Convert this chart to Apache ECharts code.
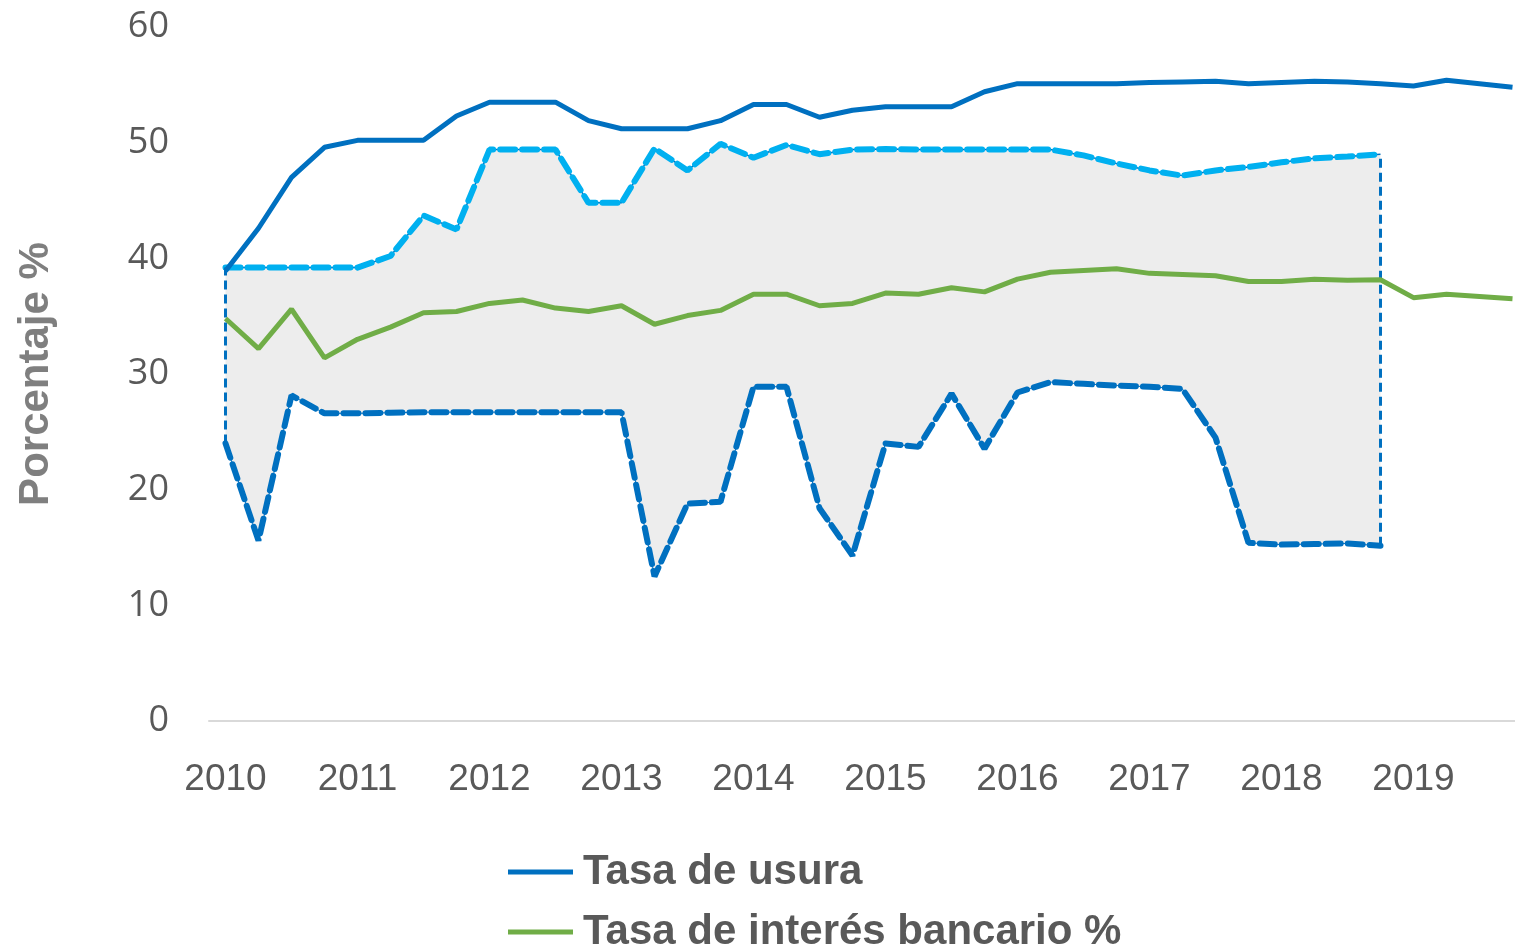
<!DOCTYPE html>
<html>
<head>
<meta charset="utf-8">
<script src="https://cdn.jsdelivr.net/npm/echarts@6/dist/echarts.min.js"></script>
<style>
  html, body { margin: 0; padding: 0; background: #fff; overflow: hidden; }
  /* el gráfico original está recortado a la derecha */
  #chart { width: 1540px; height: 951px; }
</style>
</head>
<body>
<div id="chart"></div>
<script>
// Años del eje X (datos trimestrales)
const years = [2010, 2011, 2012, 2013, 2014, 2015, 2016, 2017, 2018, 2019];
const quarters = ["T1", "T2", "T3", "T4"];

// Tasa de usura (%)
const usura = [
  38.9, 42.6, 47.0, 49.6, 50.2, 50.2, 50.2, 52.3, 53.5, 53.5,
  53.5, 51.9, 51.2, 51.2, 51.2, 51.9, 53.3, 53.3, 52.2, 52.8,
  53.1, 53.1, 53.1, 54.4, 55.1, 55.1, 55.1, 55.1, 55.2, 55.25,
  55.3, 55.1, 55.2, 55.3, 55.25, 55.1, 54.9, 55.4, 55.1, 54.8
];

// Tasa de interés bancario (%)
const bancario = [
  34.8, 32.2, 35.6, 31.4, 33.0, 34.05, 35.3, 35.4, 36.1, 36.4,
  35.7, 35.4, 35.9, 34.3, 35.05, 35.5, 36.9, 36.9, 35.9, 36.1,
  37.0, 36.9, 37.45, 37.1, 38.2, 38.8, 38.95, 39.1, 38.7, 38.6,
  38.5, 38.0, 38.0, 38.2, 38.1, 38.15, 36.6, 36.9, 36.7, 36.5
];

// Banda superior (línea discontinua celeste)
const bandaAlta = [
  39.2, 39.2, 39.2, 39.2, 39.2, 40.2, 43.7, 42.5, 49.4, 49.4,
  49.4, 44.8, 44.8, 49.5, 47.6, 49.9, 48.7, 49.8, 49.0, 49.4,
  49.45, 49.4, 49.4, 49.4, 49.4, 49.4, 48.9, 48.2, 47.6, 47.15,
  47.6, 47.9, 48.3, 48.65, 48.8, 49.0
];

// Banda inferior (línea discontinua azul)
const bandaBaja = [
  24.0, 15.6, 28.15, 26.6, 26.6, 26.65, 26.7, 26.7, 26.7, 26.7,
  26.7, 26.7, 26.7, 12.5, 18.8, 18.95, 28.9, 28.9, 18.4, 14.3,
  24.0, 23.7, 28.3, 23.55, 28.4, 29.3, 29.15, 29.0, 28.9, 28.7,
  24.5, 15.4, 15.25, 15.3, 15.35, 15.15
];

const categories = [];
years.forEach((y) => quarters.forEach((q) => categories.push(y + "-" + q)));

// ancho de la banda para el área apilada
const bandaAncho = bandaAlta.map((v, i) => +(v - bandaBaja[i]).toFixed(2));
const lastBand = bandaAlta.length - 1;

const AZUL = "#0070C0";
const CELESTE = "#00B0F0";
const VERDE = "#70AD47";

const legendText = {
  fontFamily: "Liberation Sans",
  fontWeight: "bold",
  fontSize: 42,
  color: "#595959",
  padding: [0, 0, 0, 5],
};

const chart = echarts.init(document.getElementById("chart"));

const option = {
  animation: false,
  grid: { left: 209, top: 27, width: 1320, height: 694, containLabel: false },
  // dos leyendas separadas para que queden una debajo de otra
  legend: [
    {
      data: ["Tasa de usura"],
      left: 508,
      top: 851,
      padding: 0,
      icon: "rect",
      itemWidth: 65,
      itemHeight: 5,
      textStyle: legendText,
    },
    {
      data: ["Tasa de interés bancario %"],
      left: 508,
      top: 911,
      padding: 0,
      icon: "rect",
      itemWidth: 65,
      itemHeight: 5,
      textStyle: legendText,
    },
  ],
  xAxis: {
    type: "category",
    data: categories,
    boundaryGap: true,
    axisLine: { lineStyle: { color: "#D9D9D9", width: 2 } },
    axisTick: { show: false },
    axisLabel: {
      interval: 3,
      margin: 40,
      fontFamily: "Liberation Sans",
      fontSize: 37,
      color: "#595959",
      formatter: (v) => v.slice(0, 4),
    },
    splitLine: { show: false },
  },
  yAxis: {
    type: "value",
    min: 0,
    max: 60,
    interval: 10,
    name: "Porcentaje %",
    nameLocation: "middle",
    nameGap: 152,
    nameTextStyle: {
      fontFamily: "Liberation Sans",
      fontWeight: "bold",
      fontSize: 42,
      color: "#7F7F7F",
    },
    axisLine: { show: false },
    axisTick: { show: false },
    splitLine: { show: false },
    axisLabel: {
      margin: 40,
      fontFamily: "Open Sans",
      fontSize: 36,
      color: "#595959",
    },
  },
  series: [
    {
      name: "base",
      type: "line",
      stack: "banda",
      data: bandaBaja,
      symbol: "none",
      lineStyle: { opacity: 0 },
      silent: true,
      z: 1,
    },
    {
      name: "relleno",
      type: "line",
      stack: "banda",
      data: bandaAncho,
      symbol: "none",
      lineStyle: { opacity: 0 },
      areaStyle: { color: "#EDEDED", opacity: 1 },
      silent: true,
      z: 1,
    },
    {
      name: "alta-fina",
      type: "line",
      data: bandaAlta,
      symbol: "none",
      lineStyle: { color: AZUL, width: 1.5 },
      z: 3,
    },
    {
      name: "alta",
      type: "line",
      data: bandaAlta,
      symbol: "none",
      lineStyle: { color: CELESTE, width: 6, type: [15, 7], cap: "round" },
      z: 4,
    },
    {
      name: "baja-fina",
      type: "line",
      data: bandaBaja,
      symbol: "none",
      lineStyle: { color: AZUL, width: 1 },
      z: 3,
    },
    {
      name: "baja",
      type: "line",
      data: bandaBaja,
      symbol: "none",
      lineStyle: { color: AZUL, width: 6, type: [15, 7], cap: "round" },
      z: 4,
      markLine: {
        silent: true,
        symbol: ["none", "none"],
        label: { show: false },
        lineStyle: { color: AZUL, width: 3, type: [9, 5] },
        data: [
          [
            { coord: [categories[0], bandaBaja[0]] },
            { coord: [categories[0], bandaAlta[0]] },
          ],
          [
            { coord: [categories[lastBand], bandaBaja[lastBand]] },
            { coord: [categories[lastBand], bandaAlta[lastBand]] },
          ],
        ],
      },
    },
    {
      name: "Tasa de interés bancario %",
      type: "line",
      data: bancario,
      symbol: "none",
      color: VERDE,
      lineStyle: { color: VERDE, width: 5 },
      z: 5,
    },
    {
      name: "Tasa de usura",
      type: "line",
      data: usura,
      symbol: "none",
      color: AZUL,
      lineStyle: { color: AZUL, width: 5 },
      z: 6,
    },
  ],
};

chart.setOption(option);
</script>
</body>
</html>
